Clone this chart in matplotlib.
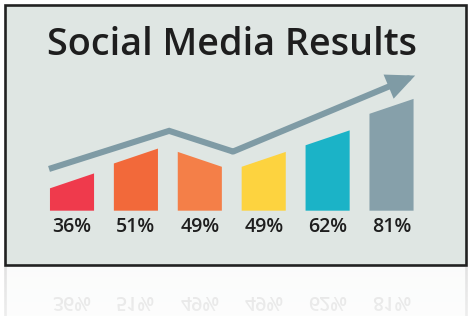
import numpy as np
import matplotlib
matplotlib.use("Agg")
import matplotlib.pyplot as plt
from matplotlib.patches import Polygon, Rectangle

# --- data -------------------------------------------------------------
categories = ["A", "B", "C", "D", "E", "F"]
values = [36, 51, 49, 49, 62, 81]
labels = ["36%", "51%", "49%", "49%", "62%", "81%"]
colors = ["#ef3a4c", "#f2693a", "#f47f48", "#fdd33f", "#1bb3c7", "#86a0aa"]

# rising trend arrow drawn over the bars (x in category units, y in %)
trend_x = [-0.36, 1.52, 2.52, 5.37]
trend_y = [43.2, 66.2, 53.7, 99.6]

# --- style ------------------------------------------------------------
BASE = 18            # value at which the bars start
SLANT = 9            # rise of each bar top from left to right edge
slant_dir = [1, 1, -1, 1, 1, 1]
HALF_W = 0.345
PANEL = "#dfe6e3"
INK = "#1e1e1e"
TREND = "#7f9ba5"

W, H, DPI = 474, 316, 100
fig = plt.figure(figsize=(W / DPI, H / DPI), dpi=DPI, facecolor="white")

# framed panel
fig.patches.append(Rectangle((5 / W, 1 - 265 / H), 461 / W, 260 / H,
                             transform=fig.transFigure, facecolor=PANEL,
                             edgecolor="#222222", lw=1.9, zorder=-5))

ax = fig.add_axes([6 / W, 1 - 264 / H, 459 / W, 258 / H], zorder=2)
ax.set_xlim(-1.033, 6.150)
ax.set_ylim(-14.2, 141.6)
ax.axis("off")
ax.patch.set_alpha(0)

x = np.arange(len(values))
for xi, v, c, d, lab in zip(x, values, colors, slant_dir, labels):
    left_top = v - d * SLANT / 2
    right_top = v + d * SLANT / 2
    poly = Polygon([(xi - HALF_W, BASE), (xi - HALF_W, left_top),
                    (xi + HALF_W, right_top), (xi + HALF_W, BASE)],
                   closed=True, facecolor=c, edgecolor="none", zorder=2)
    ax.add_patch(poly)
    ax.annotate(lab, xy=(xi, BASE), xytext=(0, -15.7), textcoords="offset points",
                ha="center", va="baseline", fontsize=14, fontweight="semibold",
                color=INK, family="Open Sans")

# trend line and arrow head
ax.plot(trend_x[:-1], trend_y[:-1], color=TREND, lw=4.4,
        solid_joinstyle="miter", solid_capstyle="butt", zorder=3)
ax.annotate("", xy=(trend_x[-1], trend_y[-1]), xytext=(trend_x[-2], trend_y[-2]),
            arrowprops=dict(arrowstyle="-|>,head_length=1.1,head_width=0.5",
                            color=TREND, lw=4.4, mutation_scale=12,
                            shrinkA=0, shrinkB=0, joinstyle="miter"),
            zorder=3)

fig.text(232 / W, 1 - 55 / H, "Social Media Results", ha="center", va="baseline",
         fontsize=27.2, fontweight="semibold", color=INK, family="Open Sans")

# faint mirror reflection below the panel
fig.canvas.draw()
buf = np.asarray(fig.canvas.buffer_rgba()).astype(float) / 255.0
mirror_row = 264
first_row = 267
rows = np.arange(first_row, H)
src = buf[2 * mirror_row - rows, :, :3]
fade = np.linspace(0.13, 0.08, len(rows))[:, None, None]
refl = 1.0 - (1.0 - src) * fade
fig.figimage(refl, xo=0, yo=0, origin="upper", zorder=5)

fig.savefig("out.png", dpi=DPI, facecolor="white")
